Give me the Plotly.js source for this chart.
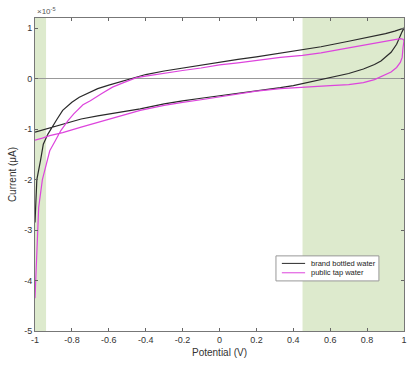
<!DOCTYPE html>
<html>
<head>
<meta charset="utf-8">
<script src="https://cdn.plot.ly/plotly-3.0.1.min.js"></script>
<style>html,body{margin:0;padding:0;background:#fff;}#chart{width:418px;height:365px;}</style>
</head>
<body>
<div id="chart"></div>
<script>
// Series names
const seriesNames = ["brand bottled water", "public tap water"];
const seriesColors = ['#2a2a2a', '#dd44dd'];

// Brand bottled water (black) – forward scan then reverse scan (current ×10^-5 µA)
const bottledX = [-1, -0.995, -0.99, -0.97, -0.955, -0.93, -0.91, -0.88, -0.85, -0.80, -0.76, -0.70, -0.66, -0.60, -0.55, -0.48, -0.40, -0.30, -0.20, -0.10, 0, 0.1, 0.2, 0.33, 0.45, 0.55, 0.7, 0.8, 0.9, 0.95, 1.0,
                  0.99, 0.98, 0.96, 0.93, 0.9, 0.875, 0.84, 0.78, 0.7, 0.6, 0.5, 0.4, 0.33, 0.2, 0.1, 0, -0.1, -0.2, -0.3, -0.43, -0.5, -0.6, -0.66, -0.75, -0.85, -0.92, -0.98, -1.0];
const bottledY = [-2.85, -2.3, -2.0, -1.62, -1.3, -1.1, -0.97, -0.8, -0.63, -0.47, -0.37, -0.26, -0.2, -0.13, -0.08, 0.0, 0.08, 0.15, 0.21, 0.27, 0.33, 0.38, 0.43, 0.5, 0.57, 0.63, 0.74, 0.81, 0.89, 0.94, 1.0,
                  0.93, 0.85, 0.68, 0.52, 0.42, 0.35, 0.28, 0.19, 0.1, 0.02, -0.07, -0.14, -0.18, -0.24, -0.29, -0.34, -0.39, -0.44, -0.5, -0.6, -0.64, -0.7, -0.74, -0.8, -0.9, -0.97, -1.04, -1.06];

// Public tap water (magenta)
const tapX = [-1, -0.995, -0.99, -0.98, -0.96, -0.935, -0.92, -0.89, -0.86, -0.82, -0.79, -0.74, -0.70, -0.64, -0.58, -0.52, -0.45, -0.4, -0.3, -0.2, -0.1, 0, 0.1, 0.2, 0.33, 0.45, 0.55, 0.7, 0.8, 0.9, 0.95, 0.98, 0.995, 1.0,
              0.995, 0.99, 0.98, 0.96, 0.93, 0.89, 0.84, 0.78, 0.7, 0.6, 0.5, 0.4, 0.33, 0.2, 0.1, 0, -0.1, -0.2, -0.3, -0.43, -0.5, -0.6, -0.66, -0.75, -0.85, -0.92, -0.96, -1.0];
const tapY = [-4.35, -3.86, -3.2, -2.55, -2.0, -1.62, -1.43, -1.23, -1.03, -0.83, -0.7, -0.52, -0.44, -0.3, -0.17, -0.08, 0.02, 0.05, 0.11, 0.16, 0.21, 0.27, 0.31, 0.36, 0.42, 0.46, 0.51, 0.61, 0.67, 0.74, 0.77, 0.79, 0.78, 0.75,
              0.62, 0.42, 0.32, 0.22, 0.13, 0.06, -0.02, -0.08, -0.12, -0.14, -0.16, -0.18, -0.2, -0.25, -0.31, -0.37, -0.42, -0.47, -0.53, -0.63, -0.7, -0.8, -0.87, -0.96, -1.07, -1.13, -1.18, -1.22];

// Shaded potential windows
const shadeRanges = [[-1, -0.94], [0.45, 1]];

const xTicks = [-1, -0.8, -0.6, -0.4, -0.2, 0, 0.2, 0.4, 0.6, 0.8, 1];
const yTicks = [-5, -4, -3, -2, -1, 0, 1];

const traces = [
  {x: bottledX, y: bottledY, type: 'scatter', mode: 'lines', name: seriesNames[0],
   line: {color: seriesColors[0], width: 1.2}},
  {x: tapX, y: tapY, type: 'scatter', mode: 'lines', name: seriesNames[1],
   line: {color: seriesColors[1], width: 1.2}}
];

const shapes = shadeRanges.map(r => ({
  type: 'rect', xref: 'x', yref: 'paper', x0: r[0], x1: r[1], y0: 0, y1: 1,
  fillcolor: 'rgb(221,234,205)', line: {width: 0}, layer: 'below'
}));

// Compact legend box (MATLAB style), drawn in paper coordinates
const legBox = {x0: 0.653, x1: 0.932, y0: 0.160, y1: 0.240};
const legRows = [0.216, 0.186];
shapes.push({type: 'rect', xref: 'paper', yref: 'paper', x0: legBox.x0, x1: legBox.x1, y0: legBox.y0, y1: legBox.y1,
             fillcolor: '#fff', line: {color: '#999', width: 1}, layer: 'above'});
const annotations = [{xref: 'paper', yref: 'paper', x: 0, y: 1, xanchor: 'left', yanchor: 'bottom',
                 text: '×10<sup>-5</sup>', showarrow: false,
                 font: {family: 'Liberation Sans, Arial, sans-serif', size: 8, color: '#555'}}];
seriesNames.forEach((name, i) => {
  shapes.push({type: 'line', xref: 'paper', yref: 'paper', x0: 0.669, x1: 0.732, y0: legRows[i], y1: legRows[i],
               line: {color: seriesColors[i], width: 1}, layer: 'above'});
  annotations.push({xref: 'paper', yref: 'paper', x: 0.742, y: legRows[i], xanchor: 'left', yanchor: 'middle',
                    text: name, showarrow: false,
                    font: {family: 'Liberation Sans, Arial, sans-serif', size: 7.5, color: '#222'}});
});

const tickFont = {family: 'Liberation Sans, Arial, sans-serif', size: 9, color: '#333'};

const layout = {
  width: 418, height: 365,
  margin: {l: 35, r: 14, t: 18, b: 34},
  paper_bgcolor: '#fff', plot_bgcolor: '#fff',
  showlegend: false,
  xaxis: {range: [-1, 1], tickvals: xTicks, ticktext: xTicks.map(String),
          ticks: 'inside', ticklen: 3, tickcolor: '#666', showgrid: false, zeroline: false,
          showline: true, linecolor: '#777', mirror: 'ticks', tickfont: tickFont,
          title: {text: 'Potential (V)', font: {family: 'Liberation Sans, Arial, sans-serif', size: 10, color: '#333'}, standoff: 5}},
  yaxis: {range: [-5, 1.2], tickvals: yTicks, ticktext: yTicks.map(String),
          ticks: 'inside', ticklen: 3, tickcolor: '#666', showgrid: false,
          zeroline: true, zerolinecolor: '#999', zerolinewidth: 1,
          showline: true, linecolor: '#777', mirror: 'ticks', tickfont: tickFont,
          title: {text: 'Current (μA)', font: {family: 'Liberation Sans, Arial, sans-serif', size: 10, color: '#333'}, standoff: 5}},
  shapes: shapes,
  annotations: annotations
};

Plotly.newPlot('chart', traces, layout, {displayModeBar: false, staticPlot: true});
</script>
</body>
</html>
